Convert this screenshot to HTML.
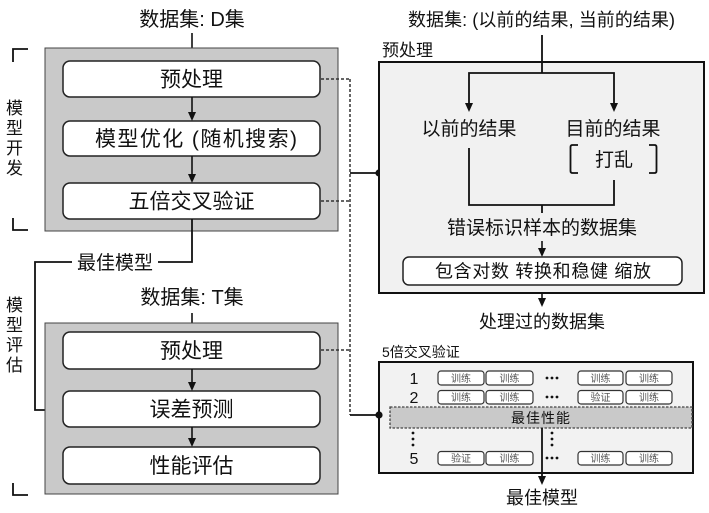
<!DOCTYPE html>
<html>
<head>
<meta charset="utf-8">
<style>
html,body{margin:0;padding:0;background:#fff;}
svg{display:block;}
text{font-family:"Liberation Sans","Noto Sans CJK SC",sans-serif;fill:#111;}
</style>
</head>
<body>
<svg width="709" height="513" viewBox="0 0 709 513" xmlns="http://www.w3.org/2000/svg">
<!-- ===== LEFT: model development ===== -->
<text x="192" y="26" font-size="20" text-anchor="middle">数据集: D集</text>
<line x1="192" y1="33" x2="192" y2="53" stroke="#111" stroke-width="1.6"/>
<polygon points="188,52 196,52 192,61" fill="#111"/>
<rect x="45" y="48" width="293" height="183" fill="#c9c9c9" stroke="#444" stroke-width="1"/>
<rect x="63" y="61" width="257" height="36" rx="7" fill="#fff" stroke="#222" stroke-width="1.5"/>
<text x="191.5" y="86.5" font-size="21" text-anchor="middle">预处理</text>
<line x1="192" y1="97" x2="192" y2="113" stroke="#111" stroke-width="1.6"/>
<polygon points="188,112 196,112 192,121" fill="#111"/>
<rect x="63" y="121" width="257" height="35" rx="7" fill="#fff" stroke="#222" stroke-width="1.5"/>
<text x="95" y="146" font-size="21" textLength="202" lengthAdjust="spacing">模型优化 (随机搜索)</text>
<line x1="192" y1="156" x2="192" y2="175" stroke="#111" stroke-width="1.6"/>
<polygon points="188,174 196,174 192,183" fill="#111"/>
<rect x="63" y="183" width="257" height="36" rx="7" fill="#fff" stroke="#222" stroke-width="1.5"/>
<text x="191.5" y="208.5" font-size="21" text-anchor="middle">五倍交叉验证</text>

<!-- best model connector -->
<polyline points="192,219 192,262 158,262" fill="none" stroke="#111" stroke-width="1.8"/>
<text x="115" y="269" font-size="19" text-anchor="middle">最佳模型</text>
<polyline points="72,262 35,262 35,410 55,410" fill="none" stroke="#111" stroke-width="1.8"/>
<polygon points="54,406 54,414 63,410" fill="#111"/>

<!-- brackets & vertical labels -->
<polyline points="28,49 13,49 13,62" fill="none" stroke="#111" stroke-width="1.8"/>
<polyline points="13,218 13,230 28,230" fill="none" stroke="#111" stroke-width="1.8"/>
<polyline points="13,483 13,495 28,495" fill="none" stroke="#111" stroke-width="1.8"/>
<g font-size="17" text-anchor="middle">
<text x="14.5" y="114">模</text>
<text x="14.5" y="134">型</text>
<text x="14.5" y="154">开</text>
<text x="14.5" y="174">发</text>
<text x="14.5" y="311">模</text>
<text x="14.5" y="331">型</text>
<text x="14.5" y="351">评</text>
<text x="14.5" y="371">估</text>
</g>

<!-- ===== LEFT: model evaluation ===== -->
<text x="192" y="304" font-size="20" text-anchor="middle">数据集: T集</text>
<line x1="192" y1="313" x2="192" y2="324" stroke="#111" stroke-width="1.6"/>
<polygon points="188,323 196,323 192,332" fill="#111"/>
<rect x="45" y="323" width="293" height="171" fill="#c9c9c9" stroke="#444" stroke-width="1"/>
<rect x="63" y="332" width="257" height="37" rx="7" fill="#fff" stroke="#222" stroke-width="1.5"/>
<text x="191.5" y="358" font-size="21" text-anchor="middle">预处理</text>
<line x1="192" y1="369" x2="192" y2="383" stroke="#111" stroke-width="1.6"/>
<polygon points="188,382 196,382 192,391" fill="#111"/>
<rect x="63" y="391" width="257" height="36" rx="7" fill="#fff" stroke="#222" stroke-width="1.5"/>
<text x="191.5" y="416.5" font-size="21" text-anchor="middle">误差预测</text>
<line x1="192" y1="427" x2="192" y2="439" stroke="#111" stroke-width="1.6"/>
<polygon points="188,438 196,438 192,447" fill="#111"/>
<rect x="63" y="447" width="257" height="37" rx="7" fill="#fff" stroke="#222" stroke-width="1.5"/>
<text x="191.5" y="473" font-size="21" text-anchor="middle">性能评估</text>

<!-- dashed connectors -->
<g stroke="#333" stroke-width="1.5" stroke-dasharray="3,2" fill="none">
<line x1="321" y1="79" x2="350" y2="79"/>
<line x1="321" y1="201" x2="350" y2="201"/>
<line x1="321" y1="350" x2="350" y2="350"/>
<line x1="350" y1="79" x2="350" y2="415"/>
</g>
<line x1="350" y1="173" x2="379" y2="173" stroke="#111" stroke-width="1.8"/>
<circle cx="379" cy="173" r="3.6" fill="#111"/>
<line x1="350" y1="415" x2="379" y2="415" stroke="#111" stroke-width="1.8"/>

<!-- ===== RIGHT: preprocessing panel ===== -->
<text x="408" y="26" font-size="18" textLength="267" lengthAdjust="spacing">数据集: (以前的结果, 当前的结果)</text>
<text x="382" y="56" font-size="17">预处理</text>
<rect x="379" y="62" width="325" height="231" fill="#f1f1f1" stroke="#111" stroke-width="2"/>
<line x1="542" y1="35" x2="542" y2="73" stroke="#111" stroke-width="1.8"/>
<polyline points="469,104 469,73 614,73 614,104" fill="none" stroke="#111" stroke-width="1.8"/>
<polygon points="465,103 473,103 469,112" fill="#111"/>
<polygon points="610,103 618,103 614,112" fill="#111"/>
<text x="469" y="135" font-size="19" text-anchor="middle">以前的结果</text>
<text x="613" y="135" font-size="19" text-anchor="middle">目前的结果</text>
<path d="M578,145 L572.5,145 Q570.5,145 570.5,147 L570.5,171 Q570.5,173 572.5,173 L578,173" fill="none" stroke="#111" stroke-width="1.8"/>
<path d="M649,145 L654.5,145 Q656.5,145 656.5,147 L656.5,171 Q656.5,173 654.5,173 L649,173" fill="none" stroke="#111" stroke-width="1.8"/>
<text x="614" y="166" font-size="19" text-anchor="middle">打乱</text>
<polyline points="469,148 469,205 614,205 614,180" fill="none" stroke="#111" stroke-width="1.8"/>
<line x1="542" y1="205" x2="542" y2="213" stroke="#111" stroke-width="1.8"/>
<text x="542" y="234" font-size="19" text-anchor="middle">错误标识样本的数据集</text>
<line x1="542" y1="241" x2="542" y2="249" stroke="#111" stroke-width="1.6"/>
<polygon points="538,248 546,248 542,257" fill="#111"/>
<rect x="403" y="257" width="279" height="28" rx="6" fill="#fff" stroke="#222" stroke-width="1.5"/>
<text x="435" y="277.5" font-size="18" textLength="216" lengthAdjust="spacing">包含对数 转换和稳健 缩放</text>
<line x1="542" y1="293" x2="542" y2="299" stroke="#111" stroke-width="1.6"/>
<polygon points="538,298 546,298 542,307" fill="#111"/>
<text x="542" y="328" font-size="18" text-anchor="middle">处理过的数据集</text>

<!-- ===== RIGHT: 5-fold CV panel ===== -->
<text x="382" y="357" font-size="14">5倍交叉验证</text>
<rect x="379" y="362" width="314" height="111" fill="#f2f2f2" stroke="#111" stroke-width="2"/>
<circle cx="379" cy="415" r="3.6" fill="#111"/>
<g font-size="16" text-anchor="middle">
<text x="414" y="384">1</text>
<text x="414" y="403">2</text>
<text x="414" y="464">5</text>
</g>
<g fill="#fff" stroke="#333" stroke-width="1.2">
<rect x="438" y="371" width="46" height="14" rx="3"/>
<rect x="486" y="371" width="47" height="14" rx="3"/>
<rect x="578" y="371" width="45" height="14" rx="3"/>
<rect x="626" y="371" width="46" height="14" rx="3"/>
<rect x="438" y="390.5" width="46" height="13.5" rx="3"/>
<rect x="486" y="390.5" width="47" height="13.5" rx="3"/>
<rect x="578" y="390.5" width="45" height="13.5" rx="3"/>
<rect x="626" y="390.5" width="46" height="13.5" rx="3"/>
<rect x="438" y="451.5" width="46" height="13.5" rx="3"/>
<rect x="486" y="451.5" width="47" height="13.5" rx="3"/>
<rect x="578" y="451.5" width="45" height="13.5" rx="3"/>
<rect x="626" y="451.5" width="46" height="13.5" rx="3"/>
</g>
<g font-size="10" text-anchor="middle">
<text x="461" y="382" style="fill:#555">训练</text>
<text x="509.5" y="382" style="fill:#555">训练</text>
<text x="600.5" y="382" style="fill:#555">训练</text>
<text x="649" y="382" style="fill:#555">训练</text>
<text x="461" y="401" style="fill:#555">训练</text>
<text x="509.5" y="401" style="fill:#555">训练</text>
<text x="600.5" y="401" style="fill:#555">验证</text>
<text x="649" y="401" style="fill:#555">训练</text>
<text x="461" y="462" style="fill:#555">验证</text>
<text x="509.5" y="462" style="fill:#555">训练</text>
<text x="600.5" y="462" style="fill:#555">训练</text>
<text x="649" y="462" style="fill:#555">训练</text>
</g>
<g fill="#111">
<circle cx="547" cy="378" r="1.4"/><circle cx="552" cy="378" r="1.4"/><circle cx="557" cy="378" r="1.4"/>
<circle cx="547" cy="397" r="1.4"/><circle cx="552" cy="397" r="1.4"/><circle cx="557" cy="397" r="1.4"/>
<circle cx="547" cy="458" r="1.4"/><circle cx="552" cy="458" r="1.4"/><circle cx="557" cy="458" r="1.4"/>
<circle cx="413" cy="433" r="1.4"/><circle cx="413" cy="439" r="1.4"/><circle cx="413" cy="445" r="1.4"/>
<circle cx="552" cy="433" r="1.4"/><circle cx="552" cy="439" r="1.4"/><circle cx="552" cy="445" r="1.4"/>
</g>
<rect x="390" y="407" width="302" height="21" fill="#c9c9c9" stroke="#444" stroke-width="1.3" stroke-dasharray="2.5,1.5"/>
<text x="541" y="423" font-size="14" text-anchor="middle" letter-spacing="1">最佳性能</text>
<line x1="542" y1="428" x2="542" y2="477" stroke="#111" stroke-width="1.8"/>
<polygon points="538,476 546,476 542,485" fill="#111"/>
<text x="542" y="504" font-size="18" text-anchor="middle">最佳模型</text>
</svg>
</body>
</html>
